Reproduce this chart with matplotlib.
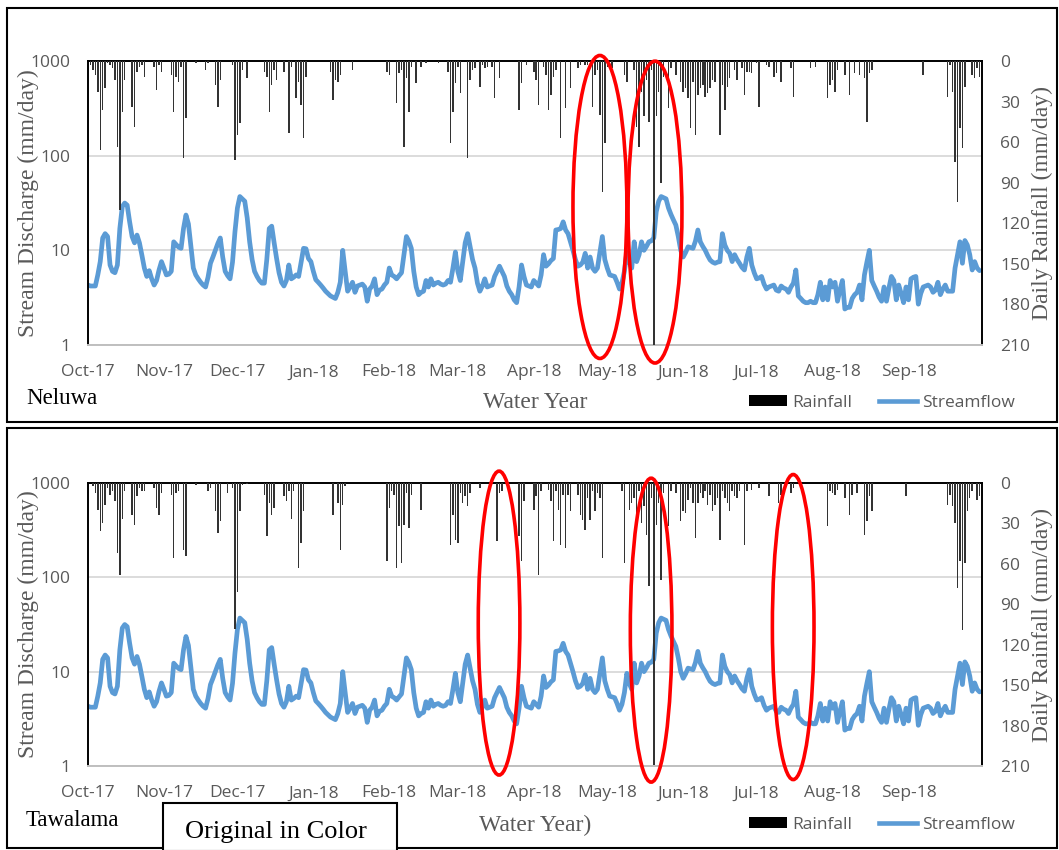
import numpy as np
import pandas as pd
import matplotlib
matplotlib.use("Agg")
import matplotlib.pyplot as plt
import matplotlib.dates as mdates
from matplotlib.patches import Ellipse, Rectangle
from matplotlib.lines import Line2D
from matplotlib.transforms import blended_transform_factory
from matplotlib.ticker import FixedLocator, FixedFormatter, NullLocator

# ---------------------------------------------------------------- data
dates = pd.date_range("2017-10-01", "2018-09-30", freq="D")

# daily streamflow (mm/day), one list per month of the water year
flow_oct = [4.3, 4.2, 4.2, 4.2, 5.5, 7.6, 13.5, 15, 14, 7, 6, 5.8, 7, 17, 29, 31.6,
            30, 20, 14, 12, 14.5, 12, 8.9, 6.5, 5.3, 6.1, 5, 4.3, 4.8, 6.2, 7.6]
flow_nov = [6.5, 5.5, 5.6, 6, 12.3, 11.5, 10.8, 10.5, 17, 23.6, 19, 11, 6.5, 5.5, 5,
            4.6, 4.3, 4.1, 5.2, 7.3, 8.5, 10, 11.8, 13.5, 8.5, 6, 5.4, 5, 7.5, 15.7]
flow_dec = [28, 37, 35, 33, 22, 12.3, 8, 6, 5.3, 4.8, 4.5, 4.5, 8, 17, 18, 12, 8.2,
            5.8, 4.6, 4.2, 4.8, 7, 5, 5.2, 5.5, 5.3, 7.5, 10.5, 10.4, 8.2, 7.6]
flow_jan = [6, 4.9, 4.6, 4.3, 4, 3.7, 3.5, 3.3, 3.2, 3.1, 3.6, 4.6, 10, 6, 3.7, 4.1,
            4.6, 3.6, 4.2, 4.3, 4.4, 4.1, 2.9, 3.9, 4.2, 5, 3.4, 3.8, 3.9, 4.3, 4.6]
flow_feb = [6.5, 5.5, 5.3, 5, 5.4, 5.8, 9, 14, 12.5, 10.5, 6, 4.1, 3.4, 3.6, 3.7,
            4.8, 4.1, 5, 4.3, 4.5, 4.6, 4.4, 4.3, 4.4, 4.8, 4.6, 6.5, 9.6]
flow_mar = [6, 4.8, 7.6, 12, 15, 11, 8, 6.5, 4.5, 3.7, 4.2, 5, 4.1, 4.2, 4.3, 5.3,
            6, 6.8, 6, 5.3, 4.2, 3.7, 3.4, 3, 2.8, 4.1, 7, 5.3, 4.3, 4.2, 4.1]
flow_apr = [4.8, 4.5, 4.2, 5.5, 9, 6.8, 7.2, 7.8, 8.2, 16.4, 16.6, 17, 20, 16.4, 15,
            12.3, 10, 8, 6.8, 7, 7.5, 9.3, 6.5, 8.5, 6.5, 6, 6.5, 9.6, 14, 8]
flow_may = [6.5, 5.5, 5.4, 5.3, 4.6, 3.9, 4.5, 6, 9.6, 7.5, 6.5, 12.3, 7.6, 9, 12.3,
            10, 11, 12.3, 12.6, 13.5, 25.6, 33, 37, 36, 35, 28, 24, 21, 18.5, 14, 10]
flow_jun = [8.5, 9.5, 10.9, 10.7, 10.5, 12.5, 16.4, 12.3, 11, 10, 8.8, 7.9, 7.5, 7.3,
            7.5, 7.6, 15, 11.4, 10, 9.3, 7.6, 9, 8, 7.3, 6.6, 6.2, 8.5, 10.5, 7, 5.8]
flow_jul = [5, 5.1, 5.3, 4.4, 3.9, 4.1, 4.2, 4.3, 3.8, 3.7, 4.2, 4, 3.9, 3.6, 4.1,
            4.5, 6.2, 3.3, 3.1, 2.9, 2.8, 2.8, 2.9, 2.8, 2.8, 3.4, 4.6, 3, 4.1, 3, 4.8]
flow_aug = [4.1, 4.6, 2.9, 3.8, 4.8, 2.4, 2.5, 2.5, 3.1, 3.4, 3.6, 4.3, 3, 5.5, 7.5,
            10, 4.8, 4.2, 3.7, 3.2, 2.9, 4.1, 2.9, 4, 5.3, 4.8, 3, 4.3, 3.5, 2.8, 4.1]
flow_sep = [3, 5, 5.2, 5.3, 2.7, 3.5, 4.1, 4.2, 4.3, 4.1, 3.6, 3.8, 4.6, 3.4, 3.9,
            4.3, 3.7, 3.7, 3.7, 6.5, 9, 12.3, 7.3, 12.7, 11.4, 9, 6.2, 7.6, 6.5, 6.1]

streamflow = np.array(flow_oct + flow_nov + flow_dec + flow_jan + flow_feb + flow_mar
                      + flow_apr + flow_may + flow_jun + flow_jul + flow_aug + flow_sep)

# daily rainfall (mm/day): (day of water year, depth); other days are dry
neluwa_rain = [
    (1, 3), (2, 6.7), (3, 10.4), (4, 22.7), (5, 65.8), (6, 36), (7, 20.2), (8, 1.7),
    (9, 3), (10, 5.4), (11, 14), (12, 63.4), (13, 110), (14, 37.5), (15, 14),
    (18, 33.8), (19, 48.6), (20, 7.9), (21, 4.2), (22, 3), (23, 11.6), (27, 4.2),
    (28, 21.4), (29, 3), (30, 7.9), (34, 10.4), (35, 37.5), (36, 11.6), (37, 15.3),
    (38, 4.2), (39, 72), (40, 42.4), (44, 1.7), (48, 6.7), (49, 1.7), (52, 17.8),
    (53, 33.8), (54, 14), (59, 3), (60, 73.2), (61, 54.7), (62, 46), (63, 6.7),
    (65, 12.3), (72, 7.9), (73, 11.6), (74, 37.5), (75, 17.8), (76, 6.7), (77, 14),
    (80, 7.9), (82, 53.5), (83, 4.2), (85, 27.6), (86, 15.3), (87, 32.5), (88, 57.2),
    (89, 11.6), (99, 7.9), (100, 28.9), (101, 14), (102, 15.3), (103, 10.4),
    (108, 6.7), (122, 7.9), (123, 10.4), (126, 31.3), (127, 9.1), (128, 6.7),
    (129, 63.4), (130, 12.8), (131, 37.5), (132, 4.2), (134, 16.5), (136, 4.2),
    (138, 1.7), (143, 1.7), (147, 7.9), (148, 61), (149, 37.5), (150, 16.5),
    (151, 4.2), (152, 24), (155, 72), (156, 14), (157, 6.7), (158, 5.4), (160, 19),
    (161, 3), (162, 5.4), (163, 4.2), (165, 4.2), (166, 27.6), (168, 12.8), (176, 36),
    (177, 16.5), (179, 3), (182, 7.9), (183, 14), (184, 32.5), (186, 4.2), (187, 10.4),
    (188, 36), (189, 25.1), (190, 11.6), (191, 6.7), (193, 57.2), (195, 35),
    (197, 20.2), (200, 5.4), (201, 3), (203, 3), (204, 3), (206, 33.8), (207, 10.4),
    (208, 6.7), (209, 40), (210, 96.7), (211, 61), (212, 4.2), (214, 5.4), (219, 10.4),
    (220, 15.3), (223, 6.7), (224, 48.6), (225, 63.4), (226, 22.7), (227, 41),
    (228, 14), (229, 44.9), (230, 6.7), (231, 210), (232, 41), (233, 22.7), (234, 90.5),
    (235, 11.6), (237, 35), (238, 5.4), (240, 10.4), (242, 15.3), (243, 22.7),
    (244, 20.2), (245, 27.6), (246, 49.8), (247, 15.3), (248, 54.7), (249, 25.1),
    (250, 20.2), (251, 17.8), (252, 26.4), (253, 24), (254, 20.2), (255, 14),
    (256, 15.3), (258, 54.7), (259, 17.8), (260, 36), (261, 19), (262, 12.8),
    (264, 6.7), (265, 14), (267, 5.4), (268, 25.1), (269, 7.9), (270, 7.9), (271, 9.1),
    (273, 1.7), (274, 33.8), (277, 3), (278, 4.2), (280, 11.6), (281, 9.1), (283, 15.3),
    (287, 5.4), (288, 26.4), (295, 5.4), (297, 4.2), (302, 27.6), (303, 17.8),
    (304, 14), (305, 22.7), (306, 6.7), (309, 10.4), (311, 25.1), (313, 9.1),
    (315, 10.4), (317, 12.8), (318, 44.9), (319, 9.1), (320, 6.7), (341, 10.4),
    (351, 26.4), (352, 3), (353, 22.7), (354, 74.4), (355, 104), (356, 49.8),
    (357, 64.6), (358, 19), (361, 10.4), (362, 12.8), (363, 5.4), (364, 11.6),
]

tawalama_rain = [
    (2, 2.5), (3, 7.4), (4, 19.8), (5, 35.9), (6, 29.7), (7, 16), (8, 3.7), (9, 8.7),
    (10, 6.2), (11, 13.6), (12, 52), (13, 68), (14, 27), (15, 6.2), (18, 23.5),
    (19, 31), (20, 9.9), (21, 3.7), (22, 6.2), (23, 6.2), (27, 3.7), (28, 18.5),
    (29, 23.5), (30, 7.4), (34, 8.7), (35, 55.6), (36, 7.4), (37, 6.2), (39, 49.5),
    (40, 54.4), (44, 1.5), (49, 6.2), (50, 3.7), (52, 21), (53, 37), (54, 28.4),
    (57, 7.4), (59, 3.7), (60, 108), (61, 81), (62, 21), (63, 1.2), (65, 0.8),
    (72, 8.7), (73, 39.5), (74, 14.8), (75, 23.5), (76, 18.5), (80, 9.9), (81, 13.6),
    (82, 6.2), (83, 27), (84, 6.2), (86, 63), (87, 44.5), (88, 21), (100, 23.5),
    (102, 14.8), (103, 49.5), (104, 16), (105, 2.5), (122, 58), (123, 18.5), (124, 6.2),
    (125, 8.7), (126, 63), (127, 32), (128, 59), (129, 31), (130, 7.4), (131, 33.4),
    (132, 8.7), (136, 19.8), (148, 45.7), (149, 23.5), (150, 42), (151, 44.5),
    (152, 7.4), (153, 14.8), (154, 9.9), (155, 17.3), (156, 7.4), (160, 3.7),
    (167, 43.3), (168, 7.4), (169, 6.2), (176, 39.5), (177, 58), (178, 13.6),
    (182, 19.8), (183, 9.9), (184, 68), (185, 6.2), (188, 4.9), (189, 13.6),
    (190, 43.3), (191, 6.2), (192, 19.8), (193, 45.7), (194, 8.7), (195, 48.2),
    (196, 8.7), (197, 21), (200, 8.7), (201, 23.5), (202, 27.2), (203, 34.6),
    (204, 11.1), (205, 27.2), (206, 6.2), (207, 21), (208, 7.4), (209, 11.1),
    (210, 55.6), (218, 6.2), (219, 59.3), (221, 19.8), (222, 14.8), (223, 11.1),
    (224, 22.2), (225, 6.2), (226, 29.7), (227, 17.3), (228, 38.3), (229, 76.6),
    (230, 11.1), (231, 209), (232, 31), (233, 14.8), (234, 71.7), (235, 7.4),
    (237, 32.1), (238, 6.2), (240, 7.4), (242, 28.4), (243, 21), (244, 22.2),
    (245, 12.3), (246, 3.7), (247, 14.8), (248, 40.8), (249, 14.8), (250, 7.4),
    (251, 11.1), (252, 6.2), (253, 16), (254, 8.7), (255, 21), (256, 16), (257, 11.1),
    (258, 42), (259, 6.2), (260, 11.1), (261, 14.8), (262, 21), (263, 6.2), (264, 9.9),
    (265, 11.1), (266, 6.2), (268, 45.7), (269, 6.2), (271, 4.9), (274, 3.7),
    (278, 9.9), (282, 14.8), (283, 8.7), (287, 7.4), (288, 3.7), (302, 32.1),
    (303, 6.2), (304, 7.4), (305, 8.7), (306, 4.9), (309, 11.1), (311, 23.5),
    (312, 8.7), (314, 7.4), (317, 38.3), (318, 28.4), (319, 9.9), (320, 21),
    (334, 9.9), (351, 16), (352, 8.7), (353, 17.3), (354, 29.7), (355, 77.9),
    (356, 58), (357, 108.8), (358, 59.3), (359, 21), (360, 11.1), (361, 6.2),
    (363, 12.3), (364, 9.9),
]

# highlighted periods: (centre date, span in days)
neluwa_marks = [("2018-04-28", 22), ("2018-05-20 12:00", 22)]
tawalama_marks = [("2018-03-17 20:00", 17), ("2018-05-18 22:00", 17), ("2018-07-15 22:00", 17)]

flow_ticks = [1, 10, 100, 1000]
rain_ticks = [0, 30, 60, 90, 120, 150, 180, 210]
month_starts = dates[dates.day == 1]

# ---------------------------------------------------------------- style
W, H = 1059, 850
BLUE = "#5B9BD5"
GREY_TXT = "#595959"
TICK_FONT = "Open Sans"
SERIF = "Liberation Serif"

fig = plt.figure(figsize=(W / 100, H / 100), dpi=100)
fig.patch.set_facecolor("white")


def fx(px):
    return px / W


def fy(py):
    return 1 - py / H


def panel(top_px, bottom_px, rain, marks, station, xlabel, label_y, mark_specs):
    left_px, right_px = 88, 982
    ax = fig.add_axes([fx(left_px), fy(bottom_px), fx(right_px - left_px),
                       (bottom_px - top_px) / H])
    ax.plot(dates, streamflow, color=BLUE, lw=3.4, solid_joinstyle="round",
            solid_capstyle="round", zorder=3)
    ax.set_yscale("log")
    ax.set_ylim(1, 1000)
    ax.set_xlim(dates[0], dates[-1] + pd.Timedelta(days=1))
    ax.yaxis.set_major_locator(FixedLocator(flow_ticks))
    ax.yaxis.set_major_formatter(FixedFormatter([str(t) for t in flow_ticks]))
    ax.yaxis.set_minor_locator(NullLocator())
    ax.yaxis.grid(True, color="#d9d9d9", lw=1.3)
    ax.set_axisbelow(True)
    ax.xaxis.set_major_locator(FixedLocator(mdates.date2num(month_starts)))
    ax.xaxis.set_major_formatter(mdates.DateFormatter("%b-%y"))
    ax.tick_params(axis="both", length=0, labelsize=12.5, labelcolor=GREY_TXT)
    ax.tick_params(axis="y", pad=13)
    ax.tick_params(axis="x", pad=14)
    for lab in ax.get_xticklabels() + ax.get_yticklabels():
        lab.set_fontfamily(TICK_FONT)
    for s in ax.spines.values():
        s.set_visible(False)
    ax.set_ylabel("Stream Discharge (mm/day)", fontfamily=SERIF, fontsize=17,
                  color=GREY_TXT)
    ax.yaxis.set_label_coords(-0.055, 0.5)

    ax2 = ax.twinx()
    rd = [d for d, _ in rain]
    rm = [m for _, m in rain]
    ax2.bar(dates[rd], rm, width=0.6, color="#333333", linewidth=0, zorder=4)
    ax2.set_ylim(210, 0)
    ax2.yaxis.set_major_locator(FixedLocator(rain_ticks))
    ax2.tick_params(axis="y", length=0, labelsize=12.5, labelcolor=GREY_TXT, pad=13)
    for lab in ax2.get_yticklabels():
        lab.set_fontfamily(TICK_FONT)
    ax2.set_ylabel("Daily Rainfall (mm/day)", fontfamily=SERIF, fontsize=17,
                   color=GREY_TXT)
    ax2.yaxis.set_label_coords(1.056, 0.5)
    for side in ("left", "top", "right"):
        ax2.spines[side].set_color("black")
        ax2.spines[side].set_linewidth(1.4)
    ax2.spines["bottom"].set_color("#bfbfbf")
    ax2.spines["bottom"].set_linewidth(1.4)

    tr = blended_transform_factory(ax2.transData, ax2.transAxes)
    for (centre, span), (yc, hgt) in zip(marks, mark_specs):
        ax2.add_patch(Ellipse((mdates.date2num(pd.Timestamp(centre)), yc), span, hgt,
                              transform=tr, fill=False, ec="red", lw=2.6,
                              clip_on=False, zorder=6))

    fig.text(fx(535), fy(label_y), xlabel, fontfamily=SERIF, fontsize=17,
             color=GREY_TXT, ha="center", va="center")
    fig.text(fx(26), fy(label_y - 5), station, fontfamily=SERIF, fontsize=16.5,
             color="black", ha="left", va="center")

    handles = [Rectangle((0, 0), 1, 1, fc="black", ec="none"),
               Line2D([], [], color=BLUE, lw=3.3)]
    leg = fig.legend(handles, ["Rainfall", "Streamflow"], loc="center",
                     bbox_to_anchor=(fx(882), fy(label_y)), ncol=2, frameon=False,
                     handlelength=2.2, handleheight=0.6, handletextpad=0.3,
                     columnspacing=1.5, prop={"family": TICK_FONT, "size": 12.5})
    for t in leg.get_texts():
        t.set_color(GREY_TXT)
    return ax, ax2


panel(61, 345, neluwa_rain, neluwa_marks, "Neluwa", "Water Year", 403,
      [(0.486, 1.067), (0.468, 1.063)])
panel(483, 766, tawalama_rain, tawalama_marks, "Tawalama", "Water Year)", 825,
      [(0.505, 1.074), (0.48, 1.074), (0.491, 1.078)])

# panel frames
fig.add_artist(Rectangle((fx(7), fy(422)), fx(1050), 414 / H, transform=fig.transFigure,
                         fill=False, ec="black", lw=1.5))
fig.add_artist(Rectangle((fx(7), fy(848)), fx(1050), 420 / H, transform=fig.transFigure,
                         fill=False, ec="black", lw=1.5))
fig.add_artist(Rectangle((fx(163), fy(851)), fx(234), 48 / H, transform=fig.transFigure,
                         fc="white", ec="black", lw=1.5))
fig.text(fx(185), fy(832), "Original in Color", fontfamily=SERIF, fontsize=19,
         color="black", ha="left", va="center")

fig.savefig("out.png", dpi=100)
